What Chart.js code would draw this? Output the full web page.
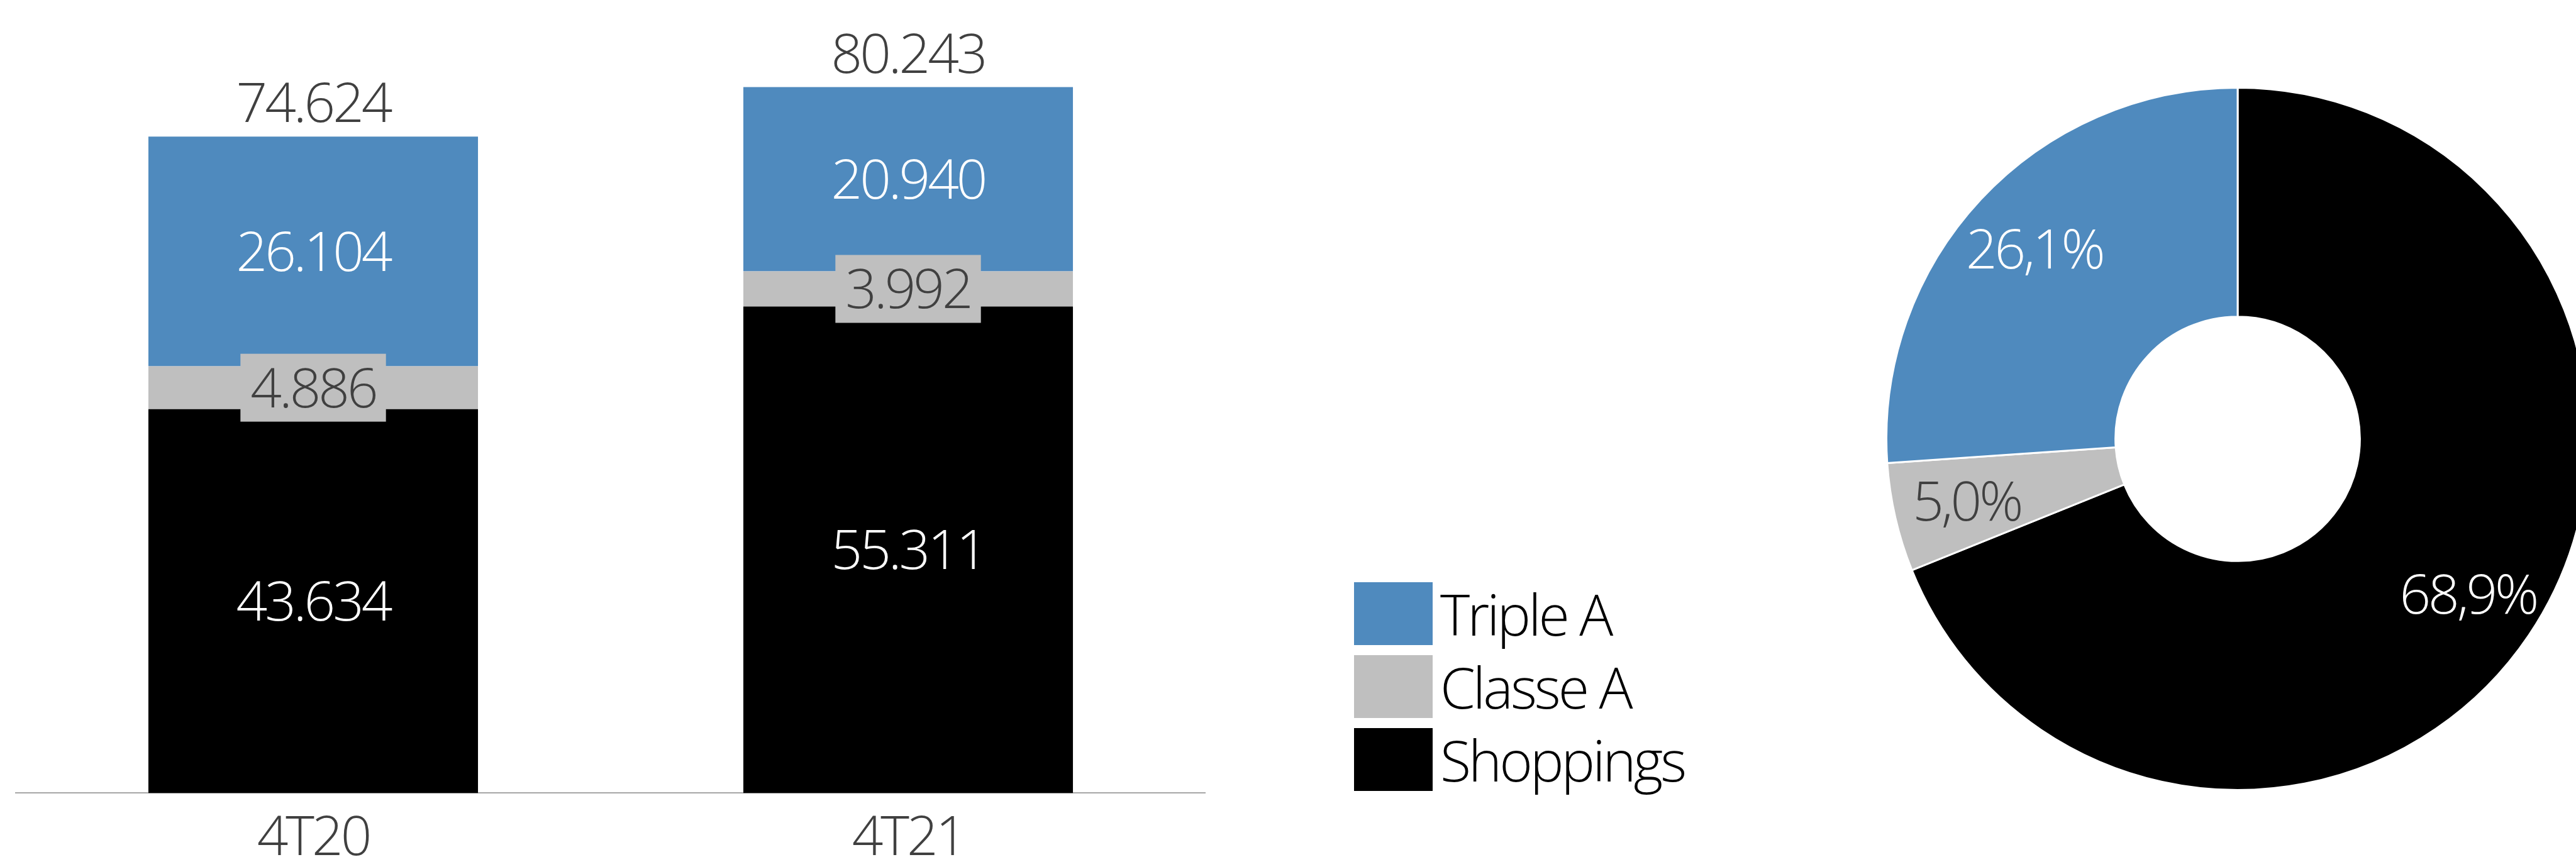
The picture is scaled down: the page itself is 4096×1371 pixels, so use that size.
<!DOCTYPE html>
<html lang="pt-BR">
<head>
    <meta charset="UTF-8">
    <title>Receita por segmento</title>
    <script src="https://cdn.jsdelivr.net/npm/chart.js"></script>
    <style>
        html, body {
            margin: 0;
            padding: 0;
            width: 4096px;
            height: 1371px;
            overflow: hidden;
            background-color: #ffffff;
        }
        #caixaBarras {
            position: absolute;
            left: 0;
            top: 0;
            width: 1917px;
            height: 1408px;
        }
        #caixaRosca {
            position: absolute;
            left: 2998px;
            top: 138px;
            width: 1120px;
            height: 1120px;
        }
        #legenda {
            position: absolute;
            left: 2153px;
            top: 926px;
            font-family: 'Open Sans', sans-serif;
            font-weight: 300;
            font-size: 90px;
            letter-spacing: -4px;
            color: #000000;
        }
        .item {
            display: flex;
            align-items: center;
            height: 100px;
            line-height: 100px;
            margin-bottom: 16px;
            white-space: nowrap;
        }
        .quadro {
            width: 125px;
            height: 100px;
            margin-right: 12px;
        }
    </style>
</head>
<body>
    <div id="caixaBarras"><canvas id="barras"></canvas></div>
    <div id="legenda"></div>
    <div id="caixaRosca"><canvas id="rosca"></canvas></div>

    <script>
        // dados por trimestre (área em m²)
        const trimestres = ['4T20', '4T21'];
        const shoppings = [43634, 55311];
        const classeA = [4886, 3992];
        const tripleA = [26104, 20940];

        // participação de cada segmento no 4T21 (%)
        const segmentos = ['Triple A', 'Classe A', 'Shoppings'];
        const participacao = [26.1, 5.0, 68.9];
        const cores = ['#4F8ABE', '#BFBFBF', '#000000'];
        const corTexto = ['#FFFFFF', '#404040', '#FFFFFF'];

        const FONTE = "'Open Sans', sans-serif";
        const fonteNumeros = "300 87px " + FONTE;
        const ESPACO = '-4px';
        const ALTURA_DIGITO = 62;

        function milhar(v) {
            return String(v).replace(/\B(?=(\d{3})+(?!\d))/g, '.');
        }

        function porcento(v) {
            return v.toFixed(1).replace('.', ',') + '%';
        }

        // legenda
        const legenda = document.getElementById('legenda');
        segmentos.forEach((nome, i) => {
            const item = document.createElement('div');
            item.className = 'item';
            const quadro = document.createElement('div');
            quadro.className = 'quadro';
            quadro.style.backgroundColor = cores[i];
            const texto = document.createElement('span');
            texto.textContent = nome;
            item.appendChild(quadro);
            item.appendChild(texto);
            legenda.appendChild(item);
        });

        // texto um pouco mais apertado em todo o canvas
        const espacamento = {
            id: 'espacamento',
            beforeDraw(chart) {
                chart.ctx.letterSpacing = ESPACO;
            }
        };

        // rótulos dentro das barras e total no topo
        const rotulosBarras = {
            id: 'rotulosBarras',
            afterDatasetsDraw(chart) {
                const ctx = chart.ctx;
                ctx.save();
                ctx.font = fonteNumeros;
                ctx.letterSpacing = ESPACO;
                ctx.textAlign = 'center';
                ctx.textBaseline = 'alphabetic';
                chart.data.datasets.forEach((ds, d) => {
                    const meta = chart.getDatasetMeta(d);
                    meta.data.forEach((barra, i) => {
                        const {x, y, base} = barra.getProps(['x', 'y', 'base'], true);
                        const meio = (y + base) / 2;
                        const texto = milhar(ds.data[i]);
                        if (ds.caixaRotulo) {
                            const w = ctx.measureText(texto).width + 32;
                            ctx.fillStyle = ds.backgroundColor;
                            ctx.fillRect(x - w / 2, meio - 54, w, 108);
                        }
                        ctx.fillStyle = ds.corRotulo;
                        ctx.fillText(texto, x, meio + ALTURA_DIGITO / 2);
                    });
                });
                // total acima da pilha
                const topo = chart.getDatasetMeta(chart.data.datasets.length - 1);
                topo.data.forEach((barra, i) => {
                    const total = chart.data.datasets.reduce((s, ds) => s + ds.data[i], 0);
                    ctx.fillStyle = '#404040';
                    ctx.fillText(milhar(total), barra.x, barra.y - 23);
                });
                ctx.restore();
            }
        };

        new Chart(document.getElementById('barras'), {
            type: 'bar',
            data: {
                labels: trimestres,
                datasets: [
                    {label: segmentos[2], data: shoppings, backgroundColor: cores[2], corRotulo: corTexto[2]},
                    {label: segmentos[1], data: classeA, backgroundColor: cores[1], corRotulo: corTexto[1], caixaRotulo: true},
                    {label: segmentos[0], data: tripleA, backgroundColor: cores[0], corRotulo: corTexto[0]}
                ]
            },
            options: {
                responsive: true,
                maintainAspectRatio: false,
                animation: false,
                layout: {padding: {left: 25, right: 0, top: 2, bottom: 0}},
                datasets: {bar: {categoryPercentage: 1, barPercentage: 0.554, borderWidth: 0}},
                plugins: {legend: {display: false}, tooltip: {enabled: false}},
                scales: {
                    x: {
                        stacked: true,
                        grid: {display: false, drawTicks: false},
                        border: {color: '#A6A6A6', width: 2},
                        ticks: {
                            color: '#404040',
                            padding: 35,
                            font: {family: FONTE, size: 87, weight: 300, lineHeight: 0.88}
                        }
                    },
                    y: {stacked: true, display: false, min: 0, max: 90000}
                }
            },
            plugins: [espacamento, rotulosBarras]
        });

        // rótulos percentuais na rosca
        const rotulosRosca = {
            id: 'rotulosRosca',
            afterDatasetsDraw(chart) {
                const ctx = chart.ctx;
                const ds = chart.data.datasets[0];
                ctx.save();
                ctx.font = fonteNumeros;
                ctx.letterSpacing = ESPACO;
                ctx.textAlign = 'center';
                ctx.textBaseline = 'alphabetic';
                chart.getDatasetMeta(0).data.forEach((arco, i) => {
                    const p = arco.getProps(['x', 'y', 'startAngle', 'endAngle', 'innerRadius', 'outerRadius'], true);
                    const ang = (p.startAngle + p.endAngle) / 2;
                    const r = p.innerRadius + 0.68 * (p.outerRadius - p.innerRadius);
                    ctx.fillStyle = ds.corRotulo[i];
                    ctx.fillText(porcento(ds.data[i]), p.x + Math.cos(ang) * r, p.y + Math.sin(ang) * r + ALTURA_DIGITO / 2);
                });
                ctx.restore();
            }
        };

        // sentido horário a partir do topo: Shoppings, Classe A, Triple A
        const ordem = [2, 1, 0];
        new Chart(document.getElementById('rosca'), {
            type: 'doughnut',
            data: {
                labels: ordem.map(i => segmentos[i]),
                datasets: [{
                    data: ordem.map(i => participacao[i]),
                    backgroundColor: ordem.map(i => cores[i]),
                    corRotulo: ordem.map(i => corTexto[i]),
                    borderColor: '#FFFFFF',
                    borderWidth: 3
                }]
            },
            options: {
                responsive: true,
                maintainAspectRatio: false,
                animation: false,
                cutout: '34.8%',
                rotation: 0,
                layout: {padding: 0},
                plugins: {legend: {display: false}, tooltip: {enabled: false}}
            },
            plugins: [rotulosRosca]
        });
    </script>
</body>
</html>
